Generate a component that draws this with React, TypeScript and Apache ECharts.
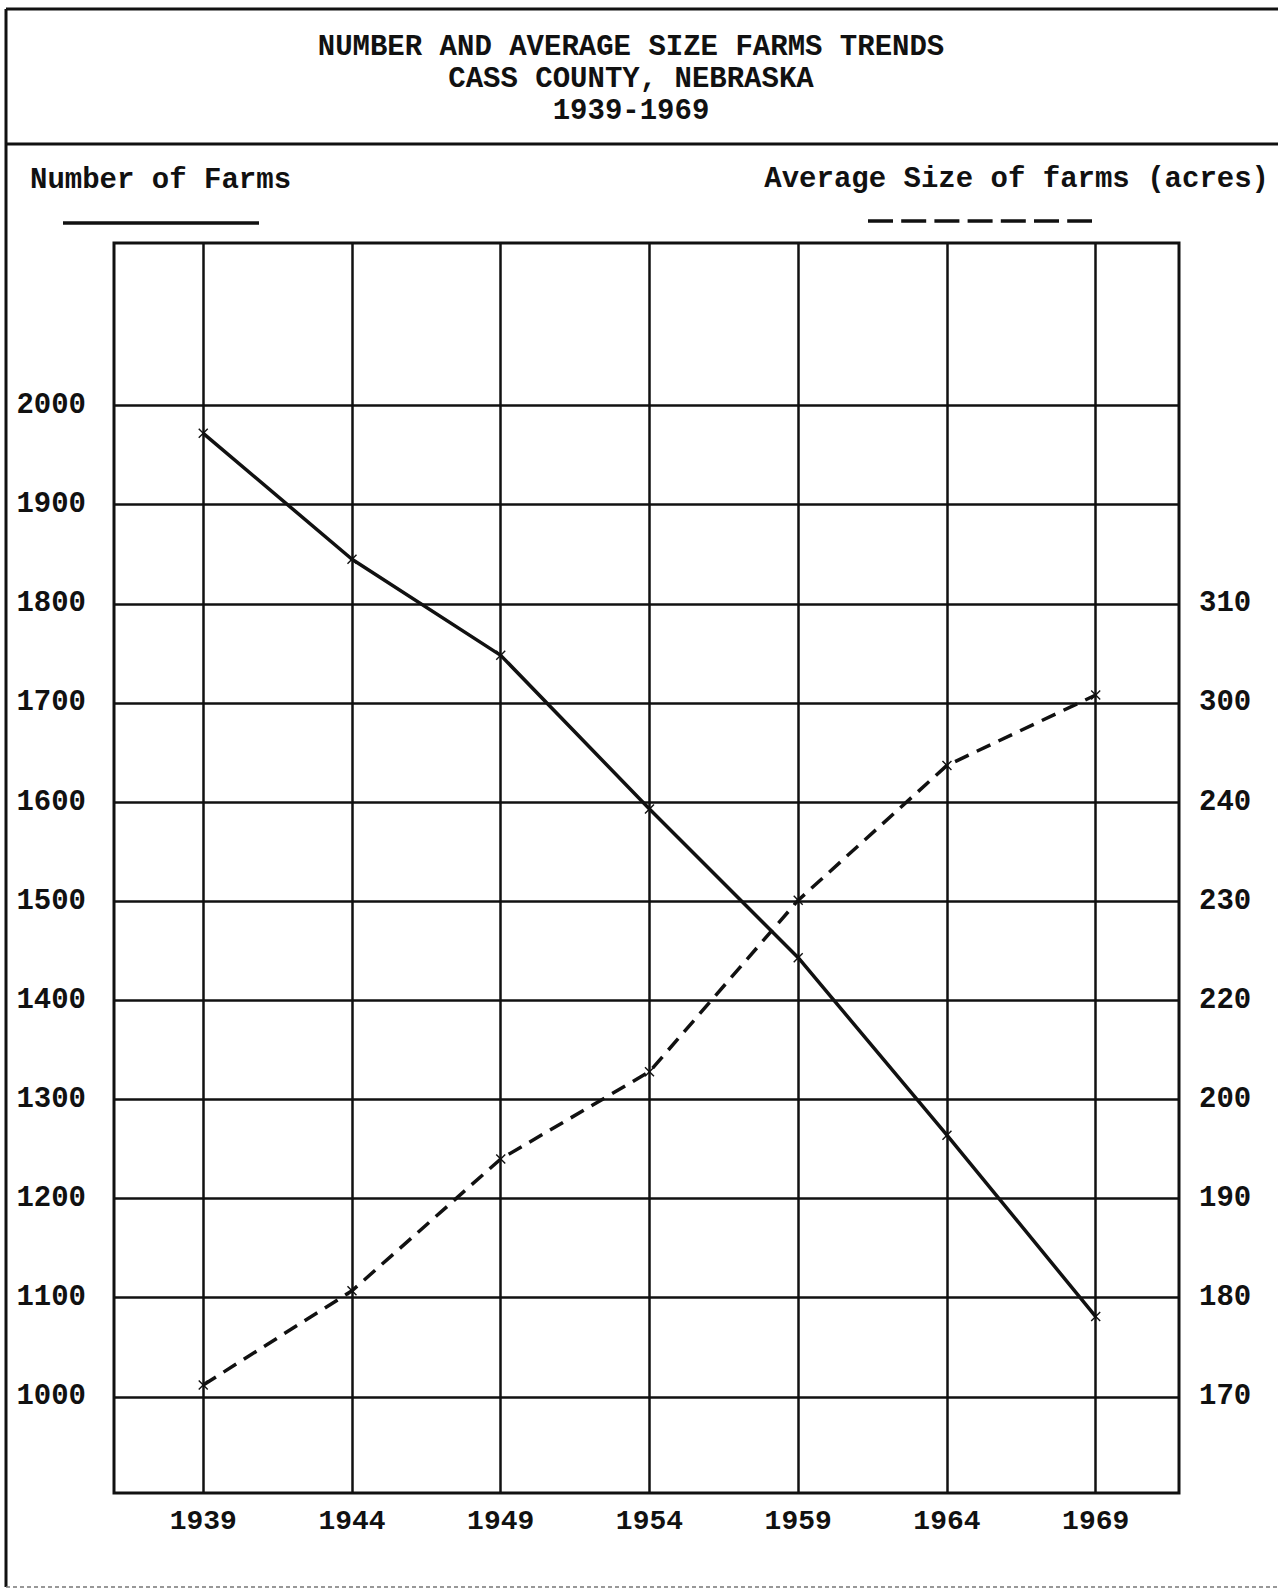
import React, { useEffect, useRef } from "react";
import * as echarts from "echarts";

const TITLE_LINES = ["NUMBER AND AVERAGE SIZE FARMS TRENDS", "CASS COUNTY, NEBRASKA", "1939-1969"];
const LEFT_LEGEND = "Number of Farms";
const RIGHT_LEGEND = "Average Size of farms (acres)";

const YEARS = [1939, 1944, 1949, 1954, 1959, 1964, 1969];
const FARMS = [1972, 1845, 1748, 1593, 1443, 1264, 1081];
const AVG_SIZE = [171.2, 180.7, 194.0, 202.8, 220.1, 233.7, 240.8];

const LEFT_TICKS = [1000, 1100, 1200, 1300, 1400, 1500, 1600, 1700, 1800, 1900, 2000];
const RIGHT_TICKS = [170, 180, 190, 200, 210, 220, 230, 240, 250];
const RIGHT_TICK_LABELS = ["170", "180", "190", "200", "220", "230", "240", "300", "310"];

const FONT = "'Liberation Mono', 'DejaVu Sans Mono', monospace";
const X_SYMBOL = "path://M0,1L1,0L5,4L9,0L10,1L6,5L10,9L9,10L5,6L1,10L0,9L4,5Z";

export default function App() {
  const ref = useRef<HTMLDivElement>(null);

  useEffect(() => {
    if (!ref.current) return;
    const chart = echarts.init(ref.current, null, { renderer: "svg" });

    const gridLines: any[] = [
      ...YEARS.map((y) => ({ xAxis: y })),
      ...LEFT_TICKS.map((v) => ({ yAxis: v })),
    ];

    const option: any = {
      animation: false,
      backgroundColor: "#ffffff",
      grid: {
        left: 114,
        right: 99,
        top: 243,
        bottom: 96,
        show: true,
        borderColor: "#111",
        borderWidth: 3,
        backgroundColor: "transparent",
      },
      xAxis: {
        type: "value",
        min: 1936,
        max: 1971.8,
        axisLine: { show: false },
        axisTick: { show: false },
        splitLine: { show: false },
        axisLabel: {
          customValues: YEARS,
          formatter: (v: number) => String(v),
          margin: 14,
          fontSize: 28,
          fontWeight: "bold",
          fontFamily: FONT,
          color: "#111",
        },
      },
      yAxis: [
        {
          type: "value",
          position: "left",
          min: 903,
          max: 2164,
          axisLine: { show: false },
          axisTick: { show: false },
          splitLine: { show: false },
          axisLabel: {
            customValues: LEFT_TICKS,
            formatter: (v: number) => String(v),
            margin: 28,
            fontSize: 29,
            fontFamily: FONT,
            fontWeight: "bold",
            color: "#111",
          },
        },
        {
          type: "value",
          position: "right",
          min: 160.3,
          max: 286.4,
          axisLine: { show: false },
          axisTick: { show: false },
          splitLine: { show: false },
          axisLabel: {
            customValues: RIGHT_TICKS,
            formatter: (v: number) => {
              const i = RIGHT_TICKS.indexOf(Math.round(v));
              return i >= 0 ? RIGHT_TICK_LABELS[i] : "";
            },
            margin: 20,
            fontSize: 29,
            fontFamily: FONT,
            fontWeight: "bold",
            color: "#111",
          },
        },
      ],
      series: [
        {
          name: LEFT_LEGEND,
          type: "line",
          yAxisIndex: 0,
          data: YEARS.map((y, i) => [y, FARMS[i]]),
          symbol: X_SYMBOL,
          symbolSize: 10,
          itemStyle: { color: "#111" },
          lineStyle: { color: "#111", width: 3.5, type: "solid" },
          z: 5,
          markLine: {
            silent: true,
            symbol: "none",
            label: { show: false },
            lineStyle: { color: "#111", width: 2.5, type: "solid" },
            data: gridLines,
          },
        },
        {
          name: RIGHT_LEGEND,
          type: "line",
          yAxisIndex: 1,
          data: YEARS.map((y, i) => [y, AVG_SIZE[i]]),
          symbol: X_SYMBOL,
          symbolSize: 10,
          itemStyle: { color: "#111" },
          lineStyle: { color: "#111", width: 3.5, type: [15, 9] },
          z: 5,
        },
      ],
      graphic: [
        // page frame
        { type: "line", shape: { x1: 6, y1: 9, x2: 1278, y2: 9 }, style: { stroke: "#111", lineWidth: 3 } },
        { type: "line", shape: { x1: 6, y1: 9, x2: 6, y2: 1587 }, style: { stroke: "#111", lineWidth: 3 } },
        { type: "line", shape: { x1: 6, y1: 144, x2: 1278, y2: 144 }, style: { stroke: "#111", lineWidth: 3 } },
        { type: "line", shape: { x1: 6, y1: 1587, x2: 1278, y2: 1587 }, style: { stroke: "#777", lineWidth: 1.5, lineDash: [4, 3] } },
        // title
        ...TITLE_LINES.map((t, i) => ({
          type: "text",
          x: 631,
          y: 47 + i * 32,
          style: {
            text: t,
            align: "center",
            verticalAlign: "middle",
            fontSize: 29,
            fontFamily: FONT,
            fontWeight: "bold",
            fill: "#111",
          },
        })),
        // legends
        {
          type: "text",
          x: 30,
          y: 180,
          style: { text: LEFT_LEGEND, align: "left", verticalAlign: "middle", fontSize: 29, fontFamily: FONT, fontWeight: "bold", fill: "#111" },
        },
        { type: "line", shape: { x1: 63, y1: 223, x2: 259, y2: 223 }, style: { stroke: "#111", lineWidth: 3.5 } },
        {
          type: "text",
          x: 1269,
          y: 179,
          style: { text: RIGHT_LEGEND, align: "right", verticalAlign: "middle", fontSize: 29, fontFamily: FONT, fontWeight: "bold", fill: "#111" },
        },
        { type: "line", shape: { x1: 868, y1: 221, x2: 1092, y2: 221 }, style: { stroke: "#111", lineWidth: 3.5, lineDash: [25, 8.2] } },
      ],
    };

    chart.setOption(option);
    return () => chart.dispose();
  }, []);

  return (
    <div
      ref={ref}
      style={{ position: "absolute", left: 0, top: 0, width: 1278, height: 1589, background: "#fff" }}
    />
  );
}
